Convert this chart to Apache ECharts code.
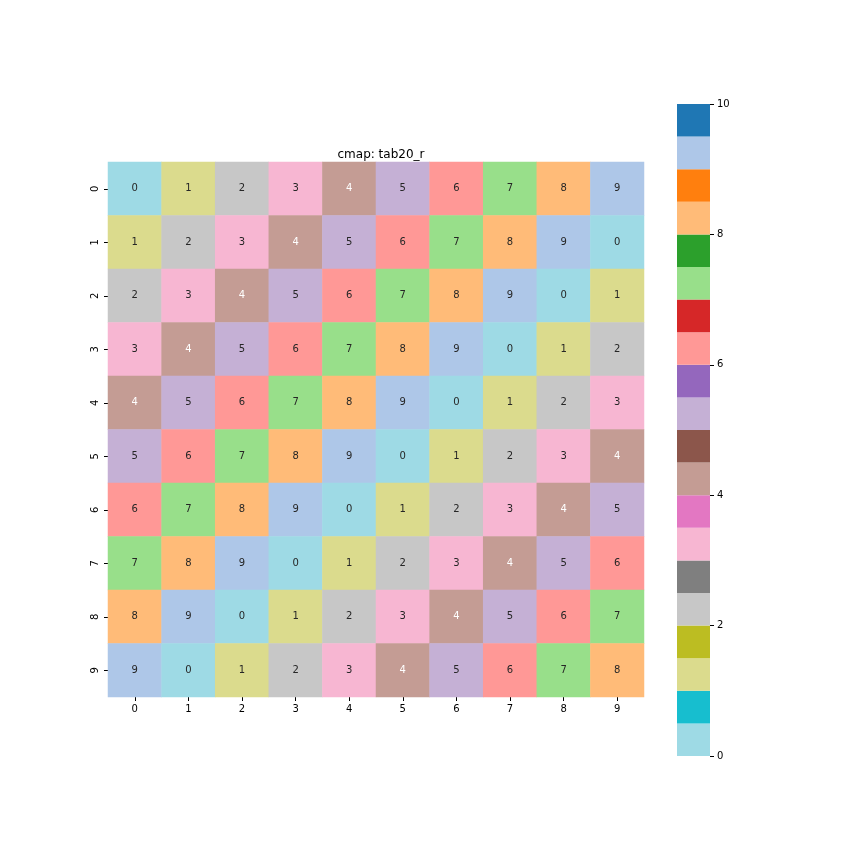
<!DOCTYPE html>
<html>
<head>
<meta charset="utf-8">
<script src="https://cdn.jsdelivr.net/npm/echarts@6/dist/echarts.min.js"></script>
<style>html,body{margin:0;padding:0;background:#fff}#c{width:864px;height:864px}</style>
</head>
<body>
<div id="c"></div>
<script>
var xLabels = ['0','1','2','3','4','5','6','7','8','9'];
var yLabels = ['0','1','2','3','4','5','6','7','8','9'];
var values = [
  [0,1,2,3,4,5,6,7,8,9],
  [1,2,3,4,5,6,7,8,9,0],
  [2,3,4,5,6,7,8,9,0,1],
  [3,4,5,6,7,8,9,0,1,2],
  [4,5,6,7,8,9,0,1,2,3],
  [5,6,7,8,9,0,1,2,3,4],
  [6,7,8,9,0,1,2,3,4,5],
  [7,8,9,0,1,2,3,4,5,6],
  [8,9,0,1,2,3,4,5,6,7],
  [9,0,1,2,3,4,5,6,7,8]
];
// tab20_r palette (20 colours, low to high)
var cmap = ['#9edae5','#17becf','#dbdb8d','#bcbd22','#c7c7c7','#7f7f7f','#f7b6d2','#e377c2','#c49c94','#8c564b',
            '#c5b0d5','#9467bd','#ff9896','#d62728','#98df8a','#2ca02c','#ffbb78','#ff7f0e','#aec7e8','#1f77b4'];
var vmin = 0, vmax = 10;
var cbTicks = [0,2,4,6,8,10];

function colorOf(v){
  var idx = Math.floor((v - vmin) / (vmax - vmin) * cmap.length);
  if (idx >= cmap.length) idx = cmap.length - 1;
  return cmap[idx];
}
function textColorOf(hex){
  var r = parseInt(hex.substr(1,2),16)/255, g = parseInt(hex.substr(3,2),16)/255, b = parseInt(hex.substr(5,2),16)/255;
  function lin(c){ return c <= 0.03928 ? c/12.92 : Math.pow((c+0.055)/1.055, 2.4); }
  var L = 0.2126*lin(r) + 0.7152*lin(g) + 0.0722*lin(b);
  return L > 0.408 ? '#262626' : '#ffffff';
}

var heatData = [];
for (var i = 0; i < values.length; i++) {
  for (var j = 0; j < values[i].length; j++) {
    var v = values[i][j];
    var c = colorOf(v);
    heatData.push({value: [j, i, v], itemStyle: {color: c}, label: {color: textColorOf(c)}});
  }
}
var cbData = [];
for (var k = 0; k < cmap.length; k++) {
  var step = (vmax - vmin) / cmap.length;
  cbData.push({value: [vmin + k*step, vmin + (k+1)*step], itemStyle: {color: cmap[k]}});
}

var font = 'DejaVu Sans';
var chart = echarts.init(document.getElementById('c'), null, {renderer: 'canvas'});
chart.setOption({
  animation: false,
  backgroundColor: '#ffffff',
  title: {
    text: 'cmap: tab20_r', left: 376, top: 144, textAlign: 'center',
    textStyle: {fontFamily: font, fontSize: 12, fontWeight: 'normal', color: '#000'}
  },
  grid: [
    {left: 108, top: 162, width: 536, height: 535},
    {left: 677, top: 104, width: 33, height: 652}
  ],
  xAxis: [
    {type: 'category', gridIndex: 0, data: xLabels, position: 'bottom',
     axisLine: {show: false}, splitLine: {show: false},
     axisTick: {show: true, alignWithLabel: true, length: 4, lineStyle: {color: '#000'}},
     axisLabel: {fontFamily: font, fontSize: 10, color: '#000', margin: 7}},
    {type: 'value', gridIndex: 1, min: 0, max: 1, show: false}
  ],
  yAxis: [
    {type: 'category', gridIndex: 0, data: yLabels, inverse: true,
     axisLine: {show: false}, splitLine: {show: false},
     axisTick: {show: true, alignWithLabel: true, length: 4, lineStyle: {color: '#000'}},
     axisLabel: {fontFamily: font, fontSize: 10, color: '#000', rotate: 90, margin: 8}},
    {type: 'value', gridIndex: 1, min: vmin, max: vmax, interval: 2, position: 'right', z: 10,
     axisLine: {show: true, onZero: false, lineStyle: {color: '#000', opacity: 0}},
     splitLine: {show: false},
     axisTick: {show: true, inside: false, length: 4, lineStyle: {color: '#000', width: 1}},
     axisLabel: {fontFamily: font, fontSize: 10, color: '#000', margin: 7, verticalAlign: 'middle',
       formatter: function(v){ return cbTicks.indexOf(v) >= 0 ? String(v) : ''; }}}
  ],
  series: [
    {type: 'heatmap', xAxisIndex: 0, yAxisIndex: 0, data: heatData,
     label: {show: true, fontFamily: font, fontSize: 10, formatter: function(p){ return String(p.value[2]); }},
     emphasis: {disabled: true}},
    {type: 'custom', xAxisIndex: 1, yAxisIndex: 1, data: cbData, z: 1,
     renderItem: function(params, api){
       var p0 = api.coord([0, api.value(0)]);
       var p1 = api.coord([1, api.value(1)]);
       return {type: 'rect', shape: {x: p0[0], y: p1[1], width: p1[0]-p0[0], height: p0[1]-p1[1]},
               style: {fill: api.visual('color')}};
     },
     encode: {x: -1, y: [0,1]}}
  ]
});
</script>
</body>
</html>
